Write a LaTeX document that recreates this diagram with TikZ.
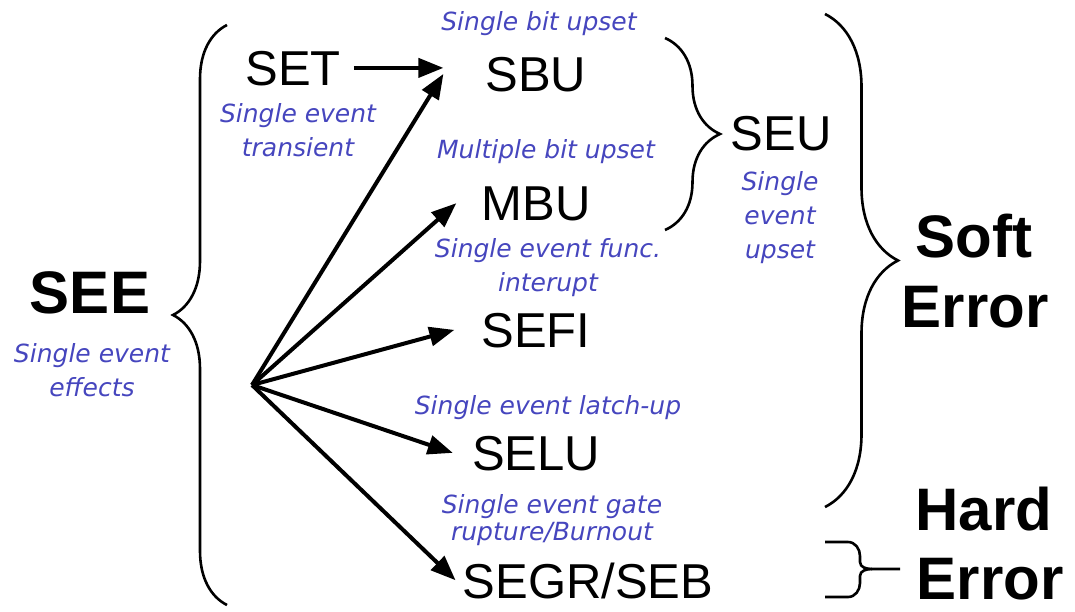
\documentclass[tikz,border=0pt]{standalone}
\usepackage{fontspec}
\setmainfont{Liberation Sans}
\newfontfamily\notefont{DejaVu Sans}
\usepackage{tikz}
\usetikzlibrary{arrows.meta,decorations.pathreplacing}
\definecolor{noteblue}{RGB}{70,70,190}

\begin{document}
\begin{tikzpicture}[x=1pt, y=-1pt,
  lbl/.style={inner sep=0pt, anchor=base, text depth=0pt, font=\fontsize{49}{49}\selectfont},
  big/.style={inner sep=0pt, anchor=base, text depth=0pt, font=\fontsize{60}{60}\selectfont\bfseries},
  note/.style={inner sep=0pt, align=center, text=noteblue, font=\notefont\itshape\fontsize{25}{34}\selectfont},
  arr/.style={-{Triangle[length=25pt, width=19pt]}, line width=4pt},
  brc/.style={decorate, decoration={brace, amplitude=#1}, line width=2.6pt}]
  \useasboundingbox (0,0) rectangle (1075,611);
  % left side
  \node[big] (see) at (90,313) {SEE};
  \node[note] (seenote) at (92,370) {Single event\\effects};
  \node[lbl] (set) at (293,85) {SET};
  \node[note] (setnote) at (298,130) {Single event\\transient};
  % effects
  \node[lbl] (sbu) at (536,91) {SBU};
  \node[note] (sbunote) at (539,24) {Single bit upset};
  \node[lbl] (mbu) at (536,220) {MBU};
  \node[note] (mbunote) at (546,152) {Multiple bit upset};
  \node[lbl] (sefi) at (536,347) {SEFI};
  \node[note] (sefinote) at (548,268) {Single event func.\\interupt};
  \node[lbl] (selu) at (536,470) {SELU};
  \node[note] (selunote) at (548,408) {Single event latch-up};
  \node[lbl] (segr) at (588,598) {SEGR/SEB};
  \node[note, font=\notefont\itshape\fontsize{25}{27}\selectfont] (segrnote) at (552,520) {Single event gate\\rupture/Burnout};
  % right side
  \node[lbl] (seu) at (781,150) {SEU};
  \node[note] (seunote) at (780,218) {Single\\event\\upset};
  \node[big] (soft) at (974,257) {Soft};
  \node[big] (softerr) at (975,327) {Error};
  \node[big] (hard) at (984,530) {Hard};
  \node[big] (harderr) at (990,599) {Error};
  % arrows
  \coordinate (fan) at (252,385);
  \draw[arr, shorten <=13pt, shorten >=42pt] (set.east) -- (set.east -| sbu.west);
  \draw[arr] (fan) -- ([xshift=-42pt]sbu.west);
  \draw[arr] (fan) -- ([xshift=-25pt]mbu.west);
  \draw[arr] (fan) -- ([xshift=-27pt]sefi.west);
  \draw[arr] (fan) -- ([xshift=-19pt]selu.west);
  \draw[arr] (fan) -- ([xshift=-7pt]segr.west);
  % braces
  \coordinate (seetop) at (227,25);
  \coordinate (seebot) at (227,605);
  \coordinate (seutop) at (665,38);
  \coordinate (seubot) at (665,230);
  \coordinate (softtop) at (825,14);
  \coordinate (softbot) at (825,507);
  \coordinate (hardtop) at (825,542);
  \coordinate (hardbot) at (825,597);
  \coordinate (hardtip) at (900,569);
  \draw[brc=54] (seebot) -- (seetop);
  \draw[brc=55] (seutop) -- (seubot);
  \draw[brc=73] (softtop) -- (softbot);
  \draw[line width=2.6pt] (hardtop) -- ++(23,0) to[out=0, in=90] ++(12,14) -- ++(0,6) to[out=-90, in=180] ++(12,7) -- (hardtip);
  \draw[line width=2.6pt] (hardbot) -- ++(23,0) to[out=0, in=-90] ++(12,-14) -- ++(0,-7) to[out=90, in=180] ++(12,-7);
\end{tikzpicture}
\end{document}
